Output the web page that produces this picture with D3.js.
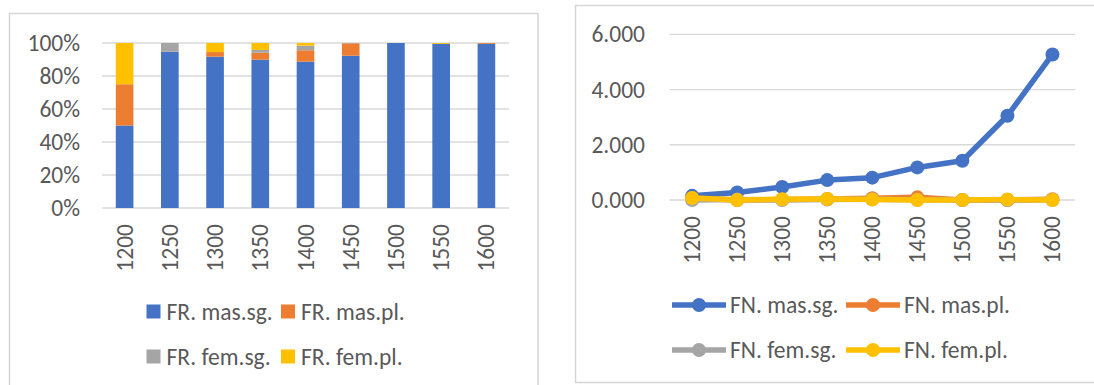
<!DOCTYPE html>
<html>
<head>
<meta charset="utf-8">
<script src="https://cdn.jsdelivr.net/npm/d3@7"></script>
<style>
    html, body { margin: 0; padding: 0; background: #fff; }
    svg { display: block; font-family: Calibri, Carlito, 'Liberation Sans', Arial, sans-serif; }
    .tick-label { fill: #595959; font-size: 23.5px; }
    .legend-text { fill: #595959; font-size: 23.5px; }
</style>
</head>
<body>
<svg id="chart" width="1094" height="385"></svg>
<script>
// ===== Data =====
const years = ['1200', '1250', '1300', '1350', '1400', '1450', '1500', '1550', '1600'];

// left chart: relative shares (%) per period
const frKeys = ['FR. mas.sg.', 'FR. mas.pl.', 'FR. fem.sg.', 'FR. fem.pl.'];
const frMasSg = [50.0, 94.7, 91.7, 89.9, 88.7, 92.3, 100, 99.5, 99.5];
const frMasPl = [25.0, 0.0, 2.8, 4.2, 6.9, 7.5, 0, 0, 0.5];
const frFemSg = [0.0, 5.3, 0.0, 1.7, 2.8, 0.2, 0, 0, 0];
const frFemPl = [25.0, 0.0, 5.5, 4.2, 1.6, 0.0, 0, 0.5, 0];

// right chart: absolute values
const fnKeys = ['FN. mas.sg.', 'FN. mas.pl.', 'FN. fem.sg.', 'FN. fem.pl.'];
const fnMasSg = [0.15, 0.27, 0.47, 0.72, 0.81, 1.18, 1.42, 3.05, 5.27];
const fnMasPl = [0.075, 0.0, 0.014, 0.034, 0.063, 0.096, 0.0, 0.0, 0.026];
const fnFemSg = [0.0, 0.015, 0.0, 0.014, 0.026, 0.005, 0.0, 0.0, 0.0];
const fnFemPl = [0.075, 0.0, 0.028, 0.034, 0.015, 0.0, 0.0, 0.015, 0.0];

const pctTicks = [0, 0.2, 0.4, 0.6, 0.8, 1.0];
const valTicks = [0, 2, 4, 6];

// ===== Config =====
const CONFIG = {
    colors: ['#4472c4', '#ed7d31', '#a5a5a5', '#ffc000'],
    grid: '#d9d9d9',
    border: '#d6d6d6'
};

const svg = d3.select('#chart');

// ===== Left: 100% stacked columns =====
function drawStacked() {
    // chart frame
    svg.append('rect')
        .attr('x', 9.5).attr('y', 13.5)
        .attr('width', 528.5).attr('height', 400)
        .attr('fill', 'none')
        .attr('stroke', CONFIG.border)
        .attr('stroke-width', 1.5);

    const rows = years.map((y, i) => ({
        year: y,
        [frKeys[0]]: frMasSg[i],
        [frKeys[1]]: frMasPl[i],
        [frKeys[2]]: frFemSg[i],
        [frKeys[3]]: frFemPl[i]
    }));

    const x = d3.scaleBand().domain(years).range([102, 509]).paddingInner(0.61).paddingOuter(0.305);
    const y = d3.scaleLinear().domain([0, 1]).range([208, 43]);

    const series = d3.stack().keys(frKeys).offset(d3.stackOffsetExpand)(rows);

    // gridlines
    svg.append('g').selectAll('line')
        .data(pctTicks)
        .join('line')
        .attr('x1', 102).attr('x2', 509)
        .attr('y1', d => y(d)).attr('y2', d => y(d))
        .attr('stroke', CONFIG.grid)
        .attr('stroke-width', 1.3);

    svg.append('g').selectAll('text')
        .data(pctTicks)
        .join('text')
        .attr('class', 'tick-label')
        .attr('x', 80)
        .attr('y', d => y(d))
        .attr('text-anchor', 'end')
        .attr('dominant-baseline', 'central')
        .text(d3.format('.0%'));

    svg.append('g').selectAll('g')
        .data(series)
        .join('g')
        .attr('fill', (d, i) => CONFIG.colors[i])
        .selectAll('rect')
        .data(d => d)
        .join('rect')
        .attr('x', d => x(d.data.year))
        .attr('y', d => y(d[1]))
        .attr('width', x.bandwidth())
        .attr('height', d => y(d[0]) - y(d[1]));

    // x labels (rotated)
    svg.append('g').selectAll('text')
        .data(years)
        .join('text')
        .attr('class', 'tick-label')
        .attr('transform', d => `translate(${x(d) + x.bandwidth() / 2},224) rotate(-90)`)
        .attr('text-anchor', 'end')
        .attr('dominant-baseline', 'central')
        .text(d => d);

    // legend
    const legendPos = [[146.5, 311.5], [281, 311.5], [146.5, 356.5], [281, 356.5]];
    const lg = svg.append('g').selectAll('g')
        .data(frKeys)
        .join('g')
        .attr('transform', (d, i) => `translate(${legendPos[i][0]},${legendPos[i][1]})`);
    lg.append('rect')
        .attr('x', 0).attr('y', -7)
        .attr('width', 14).attr('height', 14)
        .attr('fill', (d, i) => CONFIG.colors[i]);
    lg.append('text')
        .attr('class', 'legend-text')
        .attr('x', 20)
        .attr('dominant-baseline', 'central')
        .text(d => d);
}

// ===== Right: line chart with markers =====
function drawLines() {
    svg.append('rect')
        .attr('x', 575.5).attr('y', 5.5)
        .attr('width', 600).attr('height', 377)
        .attr('fill', 'none')
        .attr('stroke', CONFIG.border)
        .attr('stroke-width', 1.5);

    const lists = [fnMasSg, fnMasPl, fnFemSg, fnFemPl];
    const x = d3.scaleBand().domain(years).range([669.6, 1075]);
    const y = d3.scaleLinear().domain([0, 6]).range([200, 34.3]);
    const cx = d => x(d) + x.bandwidth() / 2;

    svg.append('g').selectAll('line')
        .data(valTicks)
        .join('line')
        .attr('x1', 669.6).attr('x2', 1075)
        .attr('y1', d => y(d)).attr('y2', d => y(d))
        .attr('stroke', CONFIG.grid)
        .attr('stroke-width', 1.3);

    svg.append('g').selectAll('text')
        .data(valTicks)
        .join('text')
        .attr('class', 'tick-label')
        .attr('x', 645)
        .attr('y', d => y(d))
        .attr('text-anchor', 'end')
        .attr('dominant-baseline', 'central')
        .text(d3.format('.3f'));

    const line = d3.line()
        .x((d, i) => cx(years[i]))
        .y(d => y(d));

    lists.forEach((vals, k) => {
        const g = svg.append('g');
        g.append('path')
            .datum(vals)
            .attr('d', line)
            .attr('fill', 'none')
            .attr('stroke', CONFIG.colors[k])
            .attr('stroke-width', 5.5)
            .attr('stroke-linejoin', 'round')
            .attr('stroke-linecap', 'round');
        g.selectAll('circle')
            .data(vals)
            .join('circle')
            .attr('cx', (d, i) => cx(years[i]))
            .attr('cy', d => y(d))
            .attr('r', 7)
            .attr('fill', CONFIG.colors[k]);
    });

    svg.append('g').selectAll('text')
        .data(years)
        .join('text')
        .attr('class', 'tick-label')
        .attr('transform', d => `translate(${cx(d)},216) rotate(-90)`)
        .attr('text-anchor', 'end')
        .attr('dominant-baseline', 'central')
        .text(d => d);

    // legend
    const legendPos = [[672, 305], [846, 305], [672, 350], [846, 350]];
    const lg = svg.append('g').selectAll('g')
        .data(fnKeys)
        .join('g')
        .attr('transform', (d, i) => `translate(${legendPos[i][0]},${legendPos[i][1]})`);
    lg.append('line')
        .attr('x1', 0).attr('x2', 54)
        .attr('stroke', (d, i) => CONFIG.colors[i])
        .attr('stroke-width', 5.5);
    lg.append('circle')
        .attr('cx', 27).attr('r', 7)
        .attr('fill', (d, i) => CONFIG.colors[i]);
    lg.append('text')
        .attr('class', 'legend-text')
        .attr('x', 58)
        .attr('dominant-baseline', 'central')
        .text(d => d);
}

drawStacked();
drawLines();
</script>
</body>
</html>
